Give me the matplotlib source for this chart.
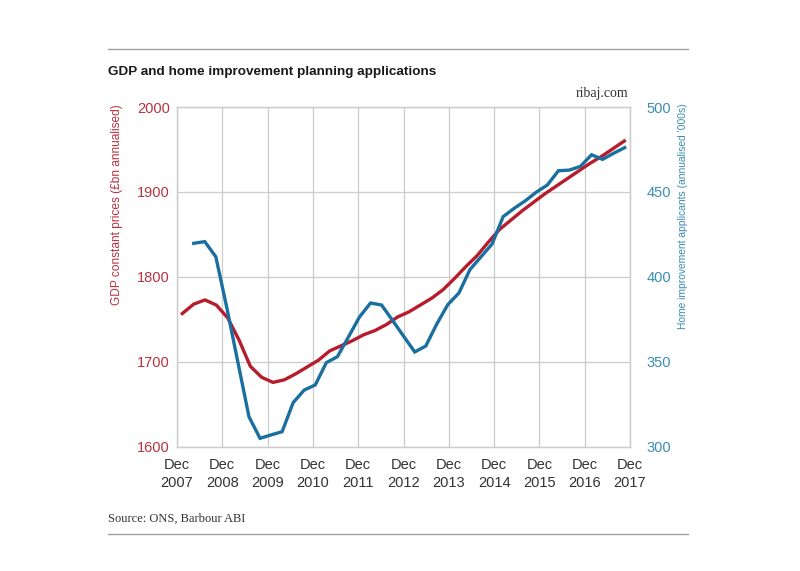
import matplotlib
matplotlib.use("Agg")
import matplotlib.pyplot as plt
from matplotlib.lines import Line2D
import numpy as np

# decimal years after Dec 2007 (first red point ~Jan 2008, last ~Nov 2017)
gdp_t = np.linspace(0.117, 9.875, 40)
gdp = [1757, 1768, 1773, 1767, 1752, 1726, 1695, 1682, 1676, 1679,
       1686, 1694, 1702, 1713, 1719, 1725, 1732, 1737, 1744, 1753,
       1759, 1767, 1775, 1785, 1798, 1812, 1825, 1841, 1856, 1867,
       1878, 1888, 1898, 1907, 1916, 1925, 1934, 1942, 1951, 1960]

apps_t = np.linspace(0.369, 9.883, 40)
apps = [419.8, 420.8, 411.9, 381.8, 349.8, 317.8, 305.1, 307.1, 309.0, 326.1,
        333.5, 336.5, 349.6, 353.1, 364.7, 376.5, 384.7, 383.5, 374.4, 365.1,
        355.9, 359.4, 372.4, 383.8, 390.6, 404.4, 411.9, 419.4, 435.5, 440.4,
        444.8, 449.9, 454.1, 462.5, 462.9, 465.1, 471.9, 469.2, 472.8, 476.1]

years = list(range(2007, 2018))
xlabels = ["Dec\n%d" % y for y in years]
gdp_ticks = [1600, 1700, 1800, 1900, 2000]
apps_ticks = [300, 350, 400, 450, 500]

RED = "#b71c2c"
BLUE = "#196f9f"
RED_TXT = "#b8323f"
BLUE_TXT = "#3a8db3"
GRID = "#cccccc"

plt.rcParams["font.family"] = ["Liberation Sans", "DejaVu Sans"]

fig = plt.figure(figsize=(8, 5.71), dpi=100)
ax = fig.add_axes([0.22125, 0.2172, 0.56625, 0.5954])
ax2 = ax.twinx()

ax.plot(gdp_t, gdp, color=RED, lw=2.4, solid_joinstyle="miter", zorder=3)
ax2.plot(apps_t, apps, color=BLUE, lw=2.4, solid_joinstyle="miter", zorder=3)

ax.set_xlim(0, 10)
ax.set_ylim(1600, 2000)
ax2.set_ylim(300, 500)
ax.set_xticks(range(11))
ax.set_xticklabels(xlabels, fontsize=10.5, color="#333333", linespacing=1.35)
ax.set_yticks(gdp_ticks)
ax.set_yticklabels([str(v) for v in gdp_ticks], fontsize=10.5, color=RED_TXT)
ax2.set_yticks(apps_ticks)
ax2.set_yticklabels([str(v) for v in apps_ticks], fontsize=10.5, color=BLUE_TXT)
ax.tick_params(axis="both", length=0)
ax.tick_params(axis="x", pad=8)
ax.tick_params(axis="y", pad=5)
ax2.tick_params(axis="y", length=0, pad=12)

ax.grid(True, color=GRID, lw=0.9)
ax.set_axisbelow(True)
for a in (ax, ax2):
    for s in a.spines.values():
        s.set_color(GRID)
        s.set_linewidth(0.9)

# axis titles, top-aligned with the plot
fig.text(117 / 800, 1 - 104 / 571, "GDP constant prices (£bn annualised)",
         rotation=90, ha="center", va="top", fontsize=8.6, color=RED_TXT)
fig.text(683 / 800, 1 - 103 / 571, "Home improvement applicants (annualised '000s)",
         rotation=90, ha="center", va="top", fontsize=7.4, color=BLUE_TXT)

fig.text(108 / 800, 1 - 72 / 571, "GDP and home improvement planning applications",
         ha="left", va="center", fontsize=9.7, fontweight="bold", color="#1a1a1a")
fig.text(628 / 800, 1 - 93 / 571, "ribaj.com", ha="right", va="center",
         fontsize=10, family=["Liberation Serif"], color="#333333")
fig.text(108 / 800, 1 - 519 / 571, "Source: ONS, Barbour ABI", ha="left", va="center",
         fontsize=9, family=["Liberation Serif"], color="#333333")

for yy in (49, 534):
    fig.add_artist(Line2D([108 / 800, 688 / 800], [1 - yy / 571, 1 - yy / 571],
                          color="#a0a0a0", lw=1.0))

fig.savefig("out.png", dpi=100)
